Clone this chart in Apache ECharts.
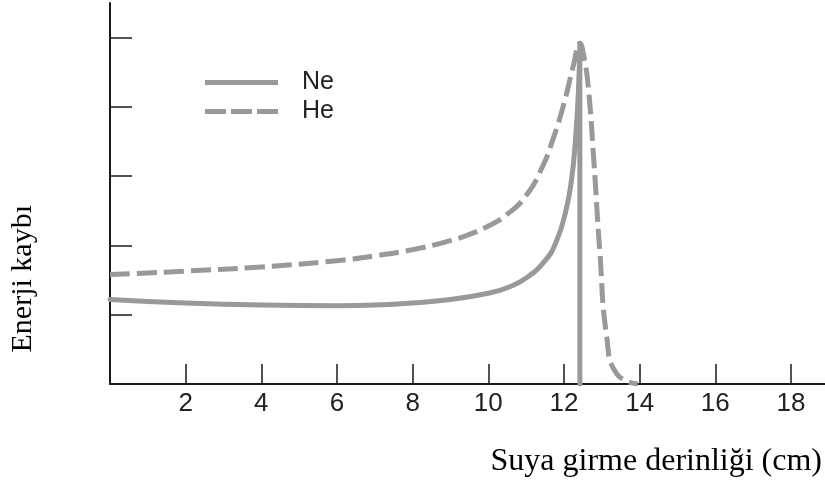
<!DOCTYPE html>
<html>
<head>
<meta charset="utf-8">
<script src="https://cdn.jsdelivr.net/npm/echarts@6/dist/echarts.min.js"></script>
<style>
  html, body { margin: 0; padding: 0; background: #fff; }
  #chart { width: 825px; height: 489px; }
</style>
</head>
<body>
<div id="chart"></div>
<script>
// depth (cm) / energy loss
const neDepth = [0, 2, 4, 6, 7, 8, 9, 10, 10.5, 11, 11.5, 11.8, 12.05, 12.2, 12.3, 12.38, 12.42, 12.42];
const neLoss  = [1.22, 1.17, 1.14, 1.13, 1.14, 1.17, 1.22, 1.31, 1.39, 1.53, 1.78, 2.06, 2.5, 2.95, 3.5, 4.2, 4.92, 0];

const heDepth = [0, 2, 4, 6, 7, 8, 9, 9.5, 10, 10.5, 11, 11.4, 11.72, 12, 12.25, 12.42, 12.52, 12.64, 12.78, 12.95, 13.13, 13.39, 13.95];
const heLoss  = [1.58, 1.63, 1.69, 1.78, 1.85, 1.94, 2.07, 2.16, 2.28, 2.45, 2.72, 3.1, 3.55, 4.05, 4.6, 4.92, 4.75, 4.3, 3.3, 1.89, 0.68, 0.15, 0];

const xTicks = [2, 4, 6, 8, 10, 12, 14, 16, 18];
const yTicks = [1, 2, 3, 4, 5];

const toPairs = (xs, ys) => xs.map((x, i) => [x, ys[i]]);

const chart = echarts.init(document.getElementById('chart'));

const lineGray = '#999999';
const axisColor = '#1a1a1a';

const option = {
  backgroundColor: '#fff',
  animation: false,
  grid: { left: 110, right: 0, top: 3, bottom: 105 },
  legend: {
    orient: 'vertical',
    left: 200,
    top: 65,
    itemWidth: 73,
    itemHeight: 5,
    itemGap: 4,
    textStyle: {
      fontFamily: 'Liberation Sans',
      fontSize: 25,
      lineHeight: 25,
      color: '#222',
      padding: [0, 0, 0, 19]
    },
    data: [
      { name: 'Ne', icon: 'rect' },
      { name: 'He', icon: 'path://M0,0H21V5H0Z M26,0H47V5H26Z M52,0H73V5H52Z' }
    ]
  },
  xAxis: {
    type: 'value',
    min: 0,
    max: 18.9,
    interval: 2,
    splitLine: { show: false },
    axisLine: { lineStyle: { color: axisColor, width: 2 } },
    axisTick: { inside: true, length: 20, customValues: xTicks, lineStyle: { color: axisColor, width: 1.5 } },
    axisLabel: {
      customValues: xTicks,
      margin: 7,
      fontFamily: 'Liberation Sans',
      fontSize: 26,
      color: '#222'
    }
  },
  yAxis: {
    type: 'value',
    min: 0,
    max: 5.5,
    interval: 1,
    splitLine: { show: false },
    axisLine: { show: true, lineStyle: { color: axisColor, width: 2 } },
    axisTick: { show: true, inside: true, length: 22, customValues: yTicks, lineStyle: { color: axisColor, width: 1.5 } },
    axisLabel: { show: false }
  },
  series: [
    {
      name: 'Ne',
      type: 'line',
      data: toPairs(neDepth, neLoss),
      showSymbol: false,
      symbol: 'none',
      smooth: 0.5,
      lineStyle: { color: lineGray, width: 5, cap: 'round', join: 'round' },
      itemStyle: { color: lineGray }
    },
    {
      name: 'He',
      type: 'line',
      data: toPairs(heDepth, heLoss),
      showSymbol: false,
      symbol: 'none',
      smooth: 0.5,
      lineStyle: { color: lineGray, width: 5, type: [20, 7], join: 'round' },
      itemStyle: { color: lineGray }
    }
  ],
  graphic: [
    {
      type: 'text',
      left: 8,
      top: 205,
      rotation: Math.PI / 2,
      style: {
        text: 'Enerji kaybı',
        fontFamily: 'Liberation Serif',
        fontSize: 30,
        fill: '#000'
      }
    },
    {
      type: 'text',
      right: 3,
      top: 446,
      style: {
        text: 'Suya girme derinliği (cm)',
        fontFamily: 'Liberation Serif',
        fontSize: 32,
        fill: '#000'
      }
    }
  ]
};

chart.setOption(option);
</script>
</body>
</html>
